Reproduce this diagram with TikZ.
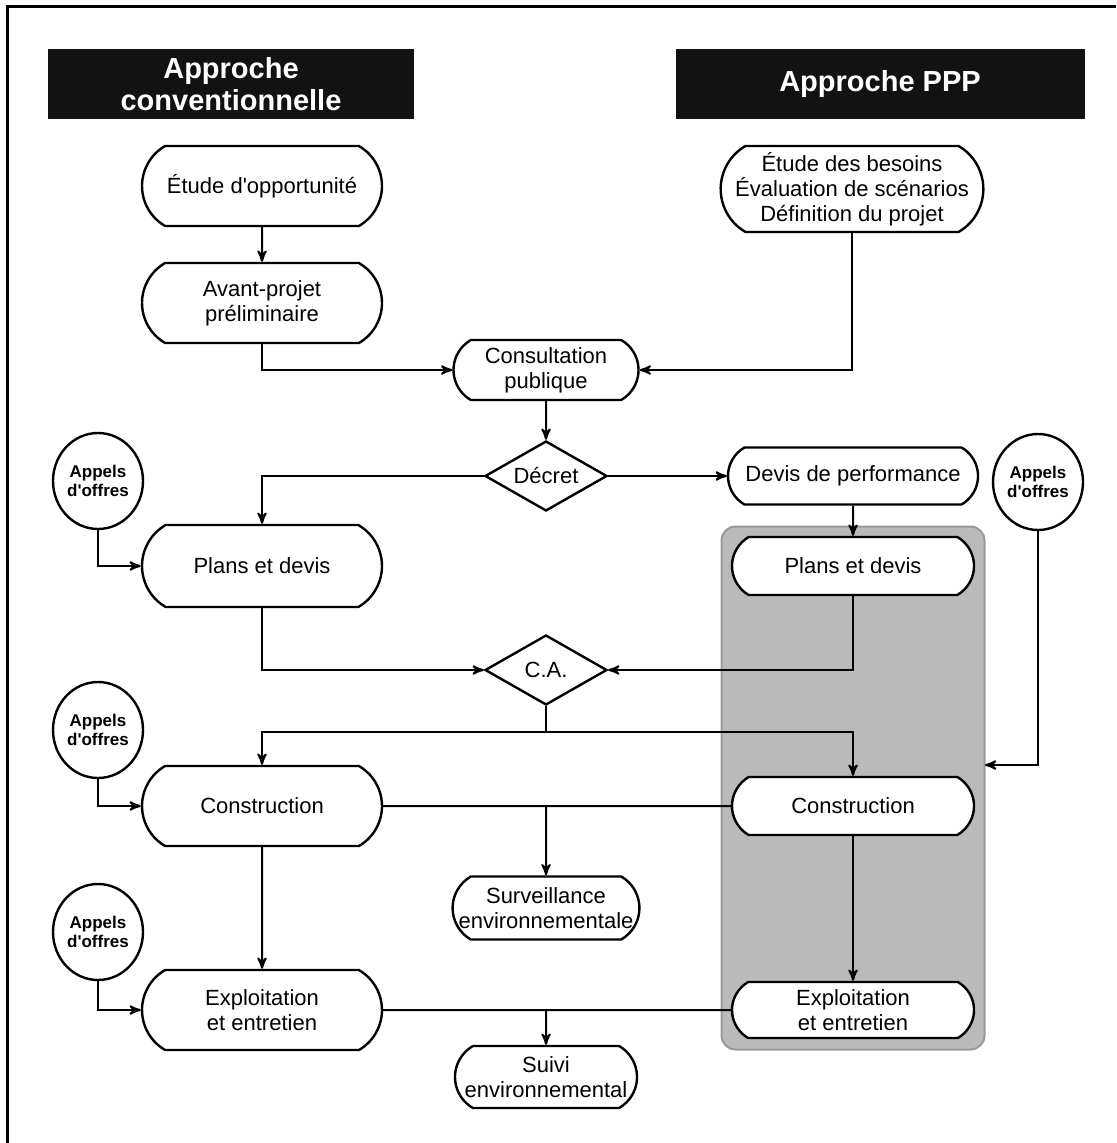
\documentclass[tikz,border=0pt]{standalone}
\usepackage{fontspec}
\setmainfont{Liberation Sans}
\usetikzlibrary{arrows, shapes}

% ligne de texte centree dans une largeur imposee
\newcommand{\serre}[2]{\makebox[#1]{#2}}

\begin{document}
\begin{tikzpicture}[x=0.5pt, y=-0.5pt, >=stealth', line width=1pt,
	titre/.style={fill=black!93, text=white, inner sep=0pt, align=center, minimum height=35pt, font=\bfseries\fontsize{14.5}{16}\selectfont},
	etape/.style={rounded rectangle, rounded rectangle arc length=120, draw, line width=1.2pt, fill=white, inner xsep=0pt, inner ysep=1pt, align=center, font=\fontsize{11}{12.5}\selectfont},
	choix/.style={diamond, draw, line width=1.2pt, fill=white, aspect=1.75, inner sep=0pt, minimum width=61pt, minimum height=35pt, font=\fontsize{11}{12.5}\selectfont},
	appel/.style={ellipse, draw, line width=1.2pt, fill=white, inner sep=0pt, minimum width=45pt, minimum height=48pt, align=center, font=\bfseries\fontsize{8.5}{9.5}\selectfont}]
		\useasboundingbox (0, 0) rectangle (1116, 1143);
		\draw[line width=1.5pt] (7, 1143) -- (7, 7) -- (1116, 7);
		
		% en-tetes
		\node[titre, minimum width=183pt] (titreG) at (231, 84) {Approche\\conventionnelle};
		\node[titre, minimum width=204.5pt] (titreD) at (880, 84) {Approche PPP};
		
		% cadre gris de l'approche PPP
		\node[draw=black!40, fill=black!27, rounded corners=7pt, minimum width=131.5pt, minimum height=261.5pt] (groupe) at (853, 788) {};
		
		\node[etape, minimum width=120pt, minimum height=40pt] (etude) at (262, 186) {Étude d\textquotesingle opportunité};
		\node[etape, minimum width=120pt, minimum height=40pt] (avant) at (262, 303) {Avant-projet\\préliminaire};
		\node[etape, minimum height=43pt] (besoins) at (852, 189) {\serre{115pt}{Étude des besoins}\\\serre{115pt}{Évaluation de scénarios}\\\serre{115pt}{Définition du projet}};
		\node[etape, minimum width=92.5pt, minimum height=30pt] (consult) at (546, 370) {Consultation\\publique};
		
		\node[choix] (decret) at (546, 476) {Décret};
		\node[etape, minimum width=121pt, minimum height=28.5pt, inner xsep=-2pt] (devis) at (853, 476) {Devis de performance};
		
		\node[appel] (appel1) at (98, 481) {Appels\\d\textquotesingle offres};
		\node[appel] (appel2) at (1038, 482) {Appels\\d\textquotesingle offres};
		\node[appel] (appel3) at (98, 730) {Appels\\d\textquotesingle offres};
		\node[appel] (appel4) at (98, 932) {Appels\\d\textquotesingle offres};
		
		\node[etape, minimum width=120pt, minimum height=41pt] (plansG) at (262, 566) {Plans et devis};
		\node[etape, minimum width=121pt, minimum height=29pt] (plansD) at (853, 566) {Plans et devis};
		
		\node[choix] (ca) at (546, 670) {C.A.};
		\coordinate (fourche) at (546, 732);
		\coordinate (entree) at (985, 765);
		
		\node[etape, minimum width=120pt, minimum height=40pt] (constG) at (262, 806) {Construction};
		\node[etape, minimum width=121pt, minimum height=29pt] (constD) at (853, 806) {Construction};
		\node[etape, minimum height=31.5pt] (surv) at (546, 908) {\serre{87pt}{Surveillance}\\\serre{87pt}{environnementale}};
		
		\node[etape, minimum width=120pt, minimum height=40pt] (explG) at (262, 1010) {Exploitation\\et entretien};
		\node[etape, minimum width=121pt, minimum height=28pt] (explD) at (853, 1010) {Exploitation\\et entretien};
		\node[etape, minimum height=31pt] (suivi) at (546, 1077) {\serre{84.5pt}{Suivi}\\\serre{84.5pt}{environnemental}};
		
		\draw[->] (etude) -- (avant);
		\draw[->] (avant) |- (consult);
		\draw[->] (besoins) |- (consult);
		\draw[->] (consult) -- (decret);
		\draw[->] (decret) -| (plansG);
		\draw[->] (decret) -- (devis);
		\draw[->] (devis) -- (plansD);
		\draw[->] (appel1) |- (plansG);
		\draw[->] (appel2) |- (entree);
		\draw[->] (plansG) |- (ca);
		\draw[->] (plansD) |- (ca);
		\draw (ca) -- (fourche);
		\draw[->] (fourche) -| (constG);
		\draw[->] (fourche) -| (constD);
		\draw[->] (appel3) |- (constG);
		\draw (constG) -- (constD);
		\draw[->] (surv |- constG) -- (surv);
		\draw[->] (constG) -- (explG);
		\draw[->] (constD) -- (explD);
		\draw[->] (appel4) |- (explG);
		\draw (explG) -- (explD);
		\draw[->] (suivi |- explG) -- (suivi);
\end{tikzpicture}
\end{document}
